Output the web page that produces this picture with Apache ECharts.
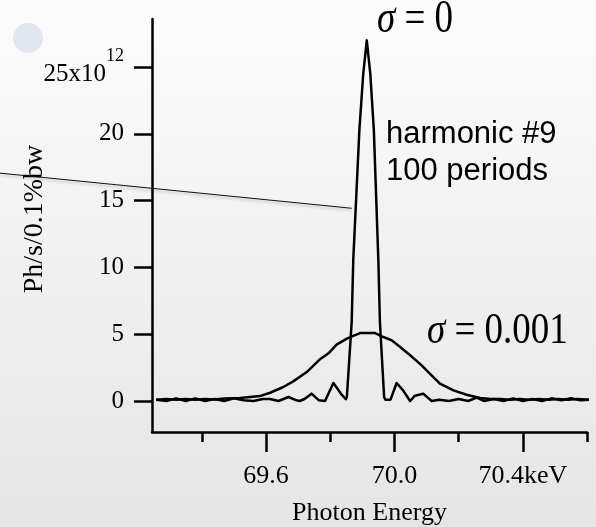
<!DOCTYPE html>
<html>
<head>
<meta charset="utf-8">
<script src="https://cdn.jsdelivr.net/npm/echarts@6/dist/echarts.min.js"></script>
<style>
html,body{margin:0;padding:0;}
#c{width:596px;height:527px;}
</style>
</head>
<body>
<div id="c"></div>
<script>
// sigma = 0 (narrow peak), photon energy in keV
const energy0 = [69.258,69.29,69.32,69.35,69.38,69.41,69.44,69.47,69.50,69.53,69.561,69.59,69.613,69.639,69.67,69.695,69.705,69.72,69.742,69.765,69.784,69.81,69.835,69.849,69.852,69.867,69.872,69.891,69.903,69.914,69.925,69.936,69.95,69.955,69.968,69.972,69.988,70.007,70.027,70.049,70.064,70.09,70.116,70.14,70.17,70.20,70.23,70.256,70.28,70.31,70.34,70.37,70.40,70.43,70.46,70.49,70.52,70.55,70.58,70.607];
const flux0 = [0.1,0.0,0.2,0.0,0.2,0.0,0.15,0.0,0.2,0.05,0.0,0.15,0.15,0.0,0.3,0.05,0.0,0.15,0.55,0.05,0.0,1.35,0.5,0.13,0.3,5.9,10.6,20.3,24.5,27.0,24.5,20.3,10.6,5.9,0.3,0.1,0.1,1.35,0.8,0.0,0.4,0.55,0.0,0.1,0.0,0.15,0.0,0.25,0.0,0.15,0.0,0.2,0.0,0.15,0.0,0.2,0.05,0.2,0.05,0.1];
// sigma = 0.001 (broad curve)
const energy1 = [69.258,69.29,69.32,69.35,69.38,69.41,69.44,69.47,69.50,69.519,69.55,69.581,69.613,69.654,69.685,69.727,69.768,69.794,69.82,69.852,69.872,69.893,69.94,69.966,69.992,70.018,70.049,70.085,70.116,70.142,70.184,70.225,70.267,70.30,70.33,70.36,70.39,70.42,70.45,70.48,70.51,70.54,70.57,70.607];
const flux1 = [0.1,0.15,0.1,0.15,0.1,0.15,0.12,0.18,0.2,0.22,0.3,0.37,0.62,1.05,1.47,2.17,3.12,3.55,4.22,4.67,4.87,5.09,5.09,4.79,4.54,4.04,3.42,2.67,1.92,1.3,0.8,0.47,0.22,0.15,0.15,0.1,0.15,0.1,0.15,0.1,0.15,0.1,0.15,0.1];
const yTicks = [0,5,10,15,20,25];
const xMajor = [69.6,70.0,70.4];
const xMinor = [69.4,69.8,70.2,70.6];
const leaderLine = [[68.771,17.06],[69.867,14.43]];

const chart = echarts.init(document.getElementById('c'), null, {width:596, height:527, renderer:'canvas'});
const serif = 'Liberation Serif, Times New Roman, serif';
const axisLineStyle = {color:'#000', width:2.5};
const zip = (a,b) => a.map((x,i)=>[x,b[i]]);

const option = {
  animation:false,
  backgroundColor: new echarts.graphic.LinearGradient(0,0,0,1,[{offset:0,color:'#fcfcfc'},{offset:1,color:'#e5e5e5'}]),
  grid:{left:152, top:19, right:9, bottom:95, containLabel:false, outerBoundsMode:'none'},
  xAxis:[{
    type:'value', min:69.245, max:70.6, gridIndex:0, position:'bottom',
    axisLine:{show:true, lineStyle:axisLineStyle, onZero:false},
    axisTick:{show:true, customValues:xMajor, length:20, lineStyle:axisLineStyle},
    axisLabel:{show:true, customValues:xMajor, margin:31, color:'#000', fontFamily:serif, fontSize:26,
      formatter:(v)=> v===xMajor[xMajor.length-1] ? v.toFixed(1)+'keV' : v.toFixed(1)},
    splitLine:{show:false},
    name:'Photon Energy', nameLocation:'middle', nameGap:68,
    nameTextStyle:{color:'#000', fontFamily:serif, fontSize:26}
  },{
    type:'value', min:69.245, max:70.6, gridIndex:0, position:'bottom',
    axisLine:{show:false, onZero:false},
    axisTick:{show:true, customValues:xMinor, length:10, lineStyle:axisLineStyle},
    axisLabel:{show:false},
    splitLine:{show:false}
  }],
  yAxis:{
    type:'value', min:-2.32, max:28.6,
    axisLine:{show:true, lineStyle:axisLineStyle, onZero:false},
    axisTick:{show:true, customValues:yTicks, length:18, lineStyle:axisLineStyle},
    axisLabel:{show:true, customValues:yTicks, margin:28, color:'#000', fontFamily:serif, fontSize:25,
      formatter:(v)=> v===25 ? '{m|25x10}{s|12}' : '{m|'+v+'}',
      rich:{
        m:{fontFamily:serif, fontSize:25, color:'#000', verticalAlign:'bottom'},
        s:{fontFamily:serif, fontSize:18, color:'#000', verticalAlign:'bottom', padding:[0,0,22,0]}
      }},
    splitLine:{show:false}
  },
  series:[{
    type:'line', data:zip(energy0,flux0), showSymbol:false, symbol:'none',
    lineStyle:{color:'#000', width:2.5, join:'round'}, clip:true
  },{
    type:'line', data:zip(energy1,flux1), showSymbol:false, symbol:'none',
    lineStyle:{color:'#000', width:2.5, join:'round'}, clip:true
  }]
};
chart.setOption(option);

const p0 = chart.convertToPixel({gridIndex:0}, leaderLine[0]);
const p1 = chart.convertToPixel({gridIndex:0}, leaderLine[1]);

chart.setOption({
  graphic:[
    {type:'circle', shape:{cx:28, cy:38, r:15}, style:{fill:'#e2e7ef'}, z:0},
    {type:'line', shape:{x1:p0[0], y1:p0[1], x2:p1[0], y2:p1[1]},
      style:{stroke:'#111', lineWidth:1, shadowColor:'rgba(0,0,0,0.25)', shadowBlur:3, shadowOffsetY:2}, z:10},
    {type:'text', x:35, y:219, rotation:Math.PI/2,
      style:{text:'Ph/s/0.1%bw', font:'28px '+serif, fill:'#000', align:'center', verticalAlign:'middle'}},
    {type:'text', x:377, y:20, scaleY:1.26,
      style:{text:'{i|σ} = 0', fill:'#000', align:'left', verticalAlign:'middle', font:'37px '+serif,
        rich:{i:{fontFamily:serif, fontSize:37, fontStyle:'italic', fill:'#000'}}}},
    {type:'text', x:427, y:332, scaleY:1.18,
      style:{text:'{i|σ} = 0.001', fill:'#000', align:'left', verticalAlign:'middle', font:'37px '+serif,
        rich:{i:{fontFamily:serif, fontSize:37, fontStyle:'italic', fill:'#000'}}}},
    {type:'text', x:386, y:116,
      style:{text:'harmonic #9\n100 periods', font:'31px Liberation Sans, Arial, sans-serif', fill:'#000',
        align:'left', verticalAlign:'top', lineHeight:37}}
  ]
});
</script>
</body>
</html>
